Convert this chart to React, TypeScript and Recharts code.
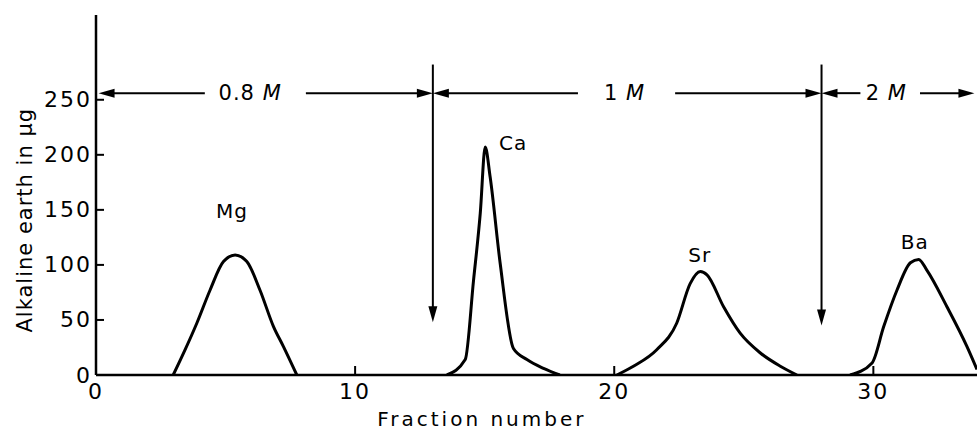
import { LineChart, Line, XAxis, YAxis, ReferenceLine, ReferenceDot, Label } from "recharts"

// peaks (fraction number, amount in µg)
const mgFraction = [2.98, 3.44, 3.89, 4.4, 4.92, 5.37, 5.82, 6.33, 6.85, 7.23, 7.75]
const mgAmount = [0, 23, 47, 77, 103, 109, 103, 77, 44, 26, 0]

const caFraction = [13.54, 14.25, 14.57, 14.83, 15.02, 15.21, 15.6, 16.11, 16.63, 17.27, 17.9]
const caAmount = [0, 14, 86, 147, 207, 180, 101, 24, 14, 6, 0]

const srFraction = [20.1, 20.74, 21.64, 22.41, 22.93, 23.32, 23.58, 24.22, 24.86, 25.64, 26.41, 27.05]
const srAmount = [0, 8, 23, 47, 83, 94, 91, 62, 38, 20, 8, 0]

const baFraction = [29.1, 29.95, 30.4, 30.91, 31.43, 31.75, 32.07, 32.84, 33.61, 34.0]
const baAmount = [0, 11, 44, 77, 102, 105, 95, 62, 26, 5]

const xTicks = [0, 10, 20, 30]
const yTicks = [0, 50, 100, 150, 200, 250]

// element labels
const peakNames = ["Mg", "Ca", "Sr", "Ba"]
const peakLabelX = [5.25, 16.1, 23.3, 31.6]
const peakLabelY = [149, 211, 109, 121]

// eluent concentration bands
const eluentNames = ["0.8", "1", "2"]
const eluentLabelX = [5.95, 20.4, 30.5]
const eluentLevel = 256
// arrow segments: [tail, tip]
const arrowTail = [4.2, 8.1, 18.6, 22.35, 29.5, 31.8]
const arrowTip = [0.1, 13, 13, 28, 28, 33.9]

// change-over points
const switchFraction = [13, 28]
const switchTop = [282, 282]
const switchBottom = [48, 45]

const pairs = (xs: number[], ys: number[]) => xs.map((x, i) => ({ x, y: ys[i] }))

const series = [
  pairs(mgFraction, mgAmount),
  pairs(caFraction, caAmount),
  pairs(srFraction, srAmount),
  pairs(baFraction, baAmount),
]

const FONT = "'DejaVu Sans', sans-serif"

const arrowShape = (props: any) => {
  const { x1, y1, x2, y2 } = props
  const dx = x2 - x1
  const dy = y2 - y1
  const len = Math.sqrt(dx * dx + dy * dy) || 1
  const ux = dx / len
  const uy = dy / len
  const hl = 16
  const hw = 4.5
  const bx = x2 - ux * hl
  const by = y2 - uy * hl
  const pts = `${x2},${y2} ${bx - uy * hw},${by + ux * hw} ${bx + uy * hw},${by - ux * hw}`
  return (
    <g>
      <line x1={x1} y1={y1} x2={bx + ux * 2} y2={by + uy * 2} stroke="#000" strokeWidth={2} />
      <polygon points={pts} fill="#000" />
    </g>
  )
}

const XTick = (props: any) => {
  const { x, y, payload } = props
  return (
    <g>
      <line x1={x} y1={y} x2={x} y2={y - 9} stroke="#000" strokeWidth={2} />
      <text x={x} y={y + 16} textAnchor="middle" dominantBaseline="central" fontFamily={FONT} fontSize={22} letterSpacing={2}>
        {payload.value}
      </text>
    </g>
  )
}

const YTick = (props: any) => {
  const { x, y, payload } = props
  return (
    <g>
      <line x1={x} y1={y} x2={x + 8} y2={y} stroke="#000" strokeWidth={2} />
      <text x={x - 4} y={y} textAnchor="end" dominantBaseline="central" fontFamily={FONT} fontSize={22} letterSpacing={2}>
        {payload.value}
      </text>
    </g>
  )
}

export default function App() {
  return (
    <div style={{ position: "absolute", left: 0, top: 0, width: 977, height: 431, background: "#fff" }}>
      <LineChart width={977} height={431} margin={{ top: 15, right: 0, bottom: 0, left: 0 }}>
        <XAxis
          type="number"
          dataKey="x"
          domain={[0, 34]}
          ticks={xTicks}
          allowDataOverflow
          height={56}
          tickSize={0}
          tickMargin={0}
          tickLine={false}
          axisLine={{ stroke: "#000", strokeWidth: 2.5 }}
          tick={<XTick />}
        >
          <Label
            content={(p: any) => (
              <text
                x={p.viewBox.x + p.viewBox.width * 0.438}
                y={p.viewBox.y + 44}
                textAnchor="middle"
                dominantBaseline="central"
                fontFamily={FONT}
                fontSize={20}
                letterSpacing={3}
              >
                Fraction  number
              </text>
            )}
          />
        </XAxis>
        <YAxis
          type="number"
          dataKey="y"
          domain={[0, 327]}
          ticks={yTicks}
          allowDataOverflow
          width={96}
          tickSize={0}
          tickMargin={0}
          tickLine={false}
          axisLine={{ stroke: "#000", strokeWidth: 2.5 }}
          tick={<YTick />}
        >
          <Label
            content={(p: any) => {
              const cx = p.viewBox.x + 25
              const cy = p.viewBox.y + p.viewBox.height * 0.57
              return (
                <text
                  x={cx}
                  y={cy}
                  transform={`rotate(-90 ${cx} ${cy})`}
                  textAnchor="middle"
                  dominantBaseline="central"
                  fontFamily={FONT}
                  fontSize={21}
                  letterSpacing={1}
                >
                  Alkaline  earth  in  μg
                </text>
              )
            }}
          />
        </YAxis>

        {series.map((d, i) => (
          <Line
            key={peakNames[i]}
            data={d}
            dataKey="y"
            type="monotone"
            stroke="#000"
            strokeWidth={3}
            dot={false}
            activeDot={false}
            isAnimationActive={false}
          />
        ))}

        {switchFraction.map((f, i) => (
          <ReferenceLine
            key={`sw${i}`}
            segment={[
              { x: f, y: switchTop[i] },
              { x: f, y: switchBottom[i] },
            ]}
            shape={arrowShape}
          />
        ))}

        {arrowTail.map((t, i) => (
          <ReferenceLine
            key={`ar${i}`}
            segment={[
              { x: t, y: eluentLevel },
              { x: arrowTip[i], y: eluentLevel },
            ]}
            shape={arrowShape}
          />
        ))}

        {eluentNames.map((n, i) => (
          <ReferenceDot
            key={`el${i}`}
            x={eluentLabelX[i]}
            y={eluentLevel}
            r={0}
            shape={(p: any) => (
              <text x={p.cx} y={p.cy} textAnchor="middle" dominantBaseline="central" fontFamily={FONT} fontSize={21} letterSpacing={1}>
                {n} <tspan fontStyle="italic">M</tspan>
              </text>
            )}
          />
        ))}

        {peakNames.map((n, i) => (
          <ReferenceDot
            key={`pk${i}`}
            x={peakLabelX[i]}
            y={peakLabelY[i]}
            r={0}
            shape={(p: any) => (
              <text x={p.cx} y={p.cy} textAnchor="middle" dominantBaseline="central" fontFamily={FONT} fontSize={20} letterSpacing={1}>
                {n}
              </text>
            )}
          />
        ))}
      </LineChart>
    </div>
  )
}
